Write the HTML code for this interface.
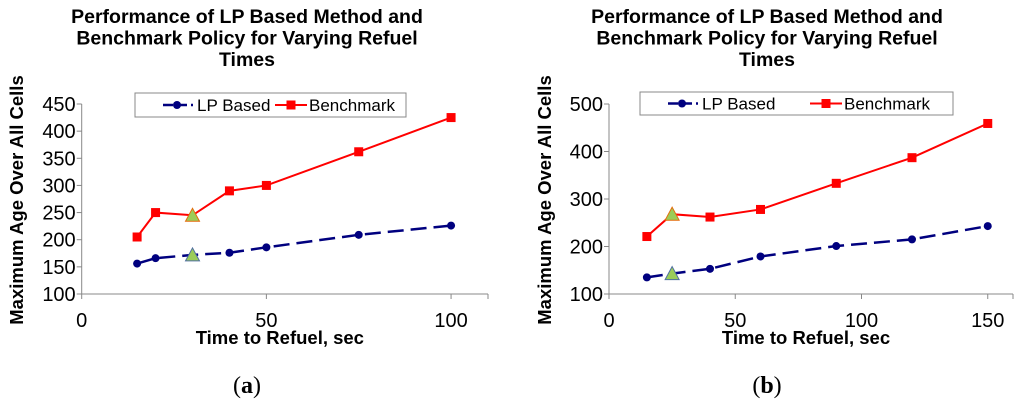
<!DOCTYPE html>
<html><head><meta charset="utf-8"><style>
body{margin:0;background:#fff;width:1024px;height:409px;overflow:hidden}
text{font-family:"Liberation Sans",Arial,sans-serif}
text.serif{font-family:"Liberation Serif",serif}
</style></head><body>
<svg id="svg" width="1024" height="409" xmlns="http://www.w3.org/2000/svg"></svg>
<script>
const xA=[15,20,30,40,50,75,100];
const lpA=[156,166,172,176,186,209,226];
const bmA=[205,250,245,290,300,362,425];
const hiA=30;
const xTicksA=[0,50,100];
const yTicksA=[100,150,200,250,300,350,400,450];

const xB=[15,25,40,60,90,120,150];
const lpB=[135,143,153,179,201,215,243];
const bmB=[221,268,262,278,333,387,459];
const hiB=25;
const xTicksB=[0,50,100,150];
const yTicksB=[100,200,300,400,500];

const svg=document.getElementById('svg');
const NS='http://www.w3.org/2000/svg';
function mk(tag,attrs,parent){const e=document.createElementNS(NS,tag);for(const k in attrs)e.setAttribute(k,attrs[k]);(parent||svg).appendChild(e);return e;}
function txt(s,attrs,parent){const t=mk('text',attrs,parent);t.textContent=s;return t;}

function chart(id,o){
  const g=mk('g',{});
  
  
  const sx=v=>o.x0+(v-0)/(o.xmax)*(o.x1-o.x0);
  const sy=v=>o.y0-(v-o.ymin)/(o.ymax-o.ymin)*(o.y0-o.y1);
  const tl=['Performance of LP Based Method and','Benchmark Policy for Varying Refuel','Times'];
  tl.forEach((s,i)=>{const t=txt(s,{x:o.tcx,y:23+i*21.5,'font-size':19.5,'font-weight':'bold','text-anchor':'middle'},g);
    });
  const ax=mk('path',{d:`M${o.x0},${sy(o.ymax)}V${o.y0}H${o.x1}`,stroke:'#888',fill:'none','stroke-width':1},g);
  
  o.yt.forEach(v=>{mk('line',{x1:o.x0-5,x2:o.x0,y1:sy(v),y2:sy(v),stroke:'#888'},g);
    const t=txt(String(v),{x:o.x0-6,y:sy(v)+7,'font-size':20,'text-anchor':'end'},g);
    });
  o.xt.forEach(v=>{mk('line',{x1:sx(v),x2:sx(v),y1:o.y0,y2:o.y0+5,stroke:'#888'},g);
    const t=txt(String(v),{x:sx(v),y:o.y0+33,'font-size':20,'text-anchor':'middle'},g);
    });
  mk('line',{x1:o.x1,x2:o.x1,y1:o.y0,y2:o.y0+5,stroke:'#888'},g);
  const xt=txt('Time to Refuel, sec',{x:(o.x0+o.x1)/2-5,y:344,'font-size':18.5,'font-weight':'bold','text-anchor':'middle'},g);
  
  const yt=txt('Maximum Age Over All Cells',{x:0,y:0,'font-size':18.5,'font-weight':'bold','text-anchor':'middle',transform:`translate(${o.ylx},200) rotate(-90)`},g);
  
  const lp=mk('polyline',{points:o.xs.map((x,i)=>sx(x)+','+sy(o.lp[i])).join(' '),fill:'none',stroke:'#00007f','stroke-width':2.5,'stroke-dasharray':'16,7'},g);
  
  o.xs.forEach((x,i)=>{if(x===o.hi)return;const c=mk('circle',{cx:sx(x),cy:sy(o.lp[i]),r:4,fill:'#00007f'},g);
    });
  const bm=mk('polyline',{points:o.xs.map((x,i)=>sx(x)+','+sy(o.bm[i])).join(' '),fill:'none',stroke:'#ff0000','stroke-width':2},g);
  
  o.xs.forEach((x,i)=>{if(x===o.hi)return;const r=mk('rect',{x:sx(x)-4.5,y:sy(o.bm[i])-4.5,width:9,height:9,fill:'#ff0000'},g);
    });
  const hi=o.xs.indexOf(o.hi);
  [o.lp[hi],o.bm[hi]].forEach((v,k)=>{const X=sx(o.hi),Y=sy(v);
    const p=mk('polygon',{points:`${X-7},${Y+6} ${X+7},${Y+6} ${X},${Y-7}`,fill:'#9bcc58',stroke:k?'#e46c0a':'#4f6fa0','stroke-width':1},g);
    });
  const L=o.leg;
  const lg=mk('g',{},g);
  mk('rect',{x:L[0],y:L[1],width:L[2],height:L[3],fill:'#fff',stroke:'#888'},lg);
  const cy=L[1]+L[3]/2;
  mk('line',{x1:L[0]+28,x2:L[0]+58,y1:cy,y2:cy,stroke:'#00007f','stroke-width':2.5,'stroke-dasharray':'10,4'},lg);
  mk('circle',{cx:L[0]+42,cy:cy,r:4,fill:'#00007f'},lg);
  txt('LP Based',{x:L[0]+62,y:cy+6,'font-size':17},lg);
  mk('line',{x1:L[0]+o.lb,x2:L[0]+o.lb+32,y1:cy,y2:cy,stroke:'#ff0000','stroke-width':2},lg);
  mk('rect',{x:L[0]+o.lb+11.5,y:cy-4.5,width:9,height:9,fill:'#ff0000'},lg);
  txt('Benchmark',{x:L[0]+o.lb+34,y:cy+6,'font-size':17},lg);
  const lab=txt('',{x:o.tcx,y:393,'font-size':24,'text-anchor':'middle','class':'serif'},g);
  lab.innerHTML='(<tspan font-weight="bold">'+o.lab+'</tspan>)';
  
}
chart('chart-a',{x0:81.7,x1:488,xmax:110,y0:294,y1:104,ymin:100,ymax:450,xs:xA,lp:lpA,bm:bmA,hi:hiA,xt:xTicksA,yt:yTicksA,tcx:247,ylx:23,leg:[135,93,271,24],lb:140,lab:'a'});
chart('chart-b',{x0:609,x1:1013,xmax:160,y0:294,y1:104,ymin:100,ymax:500,xs:xB,lp:lpB,bm:bmB,hi:hiB,xt:xTicksB,yt:yTicksB,tcx:767,ylx:551,leg:[640,92,313,23],lb:170,lab:'b'});
</script>
</body></html>
